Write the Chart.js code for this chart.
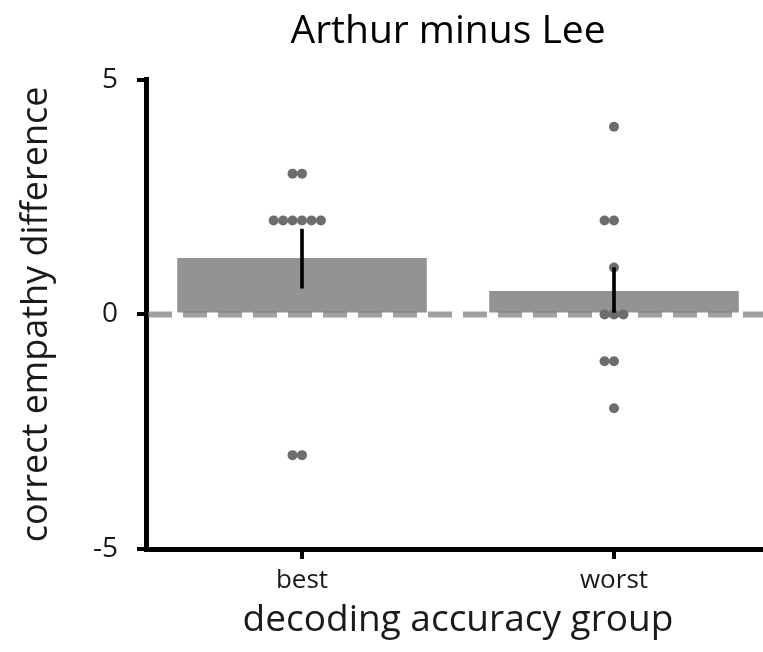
<!DOCTYPE html>
<html>
<head>
<meta charset="utf-8">
<script src="https://cdn.jsdelivr.net/npm/chart.js@4"></script>
<style>
  html, body { margin: 0; padding: 0; background: #fff; overflow: hidden; }
  .wrap { width: 775px; height: 652px; }
</style>
</head>
<body>
<div class="wrap"><canvas class="diff-chart"></canvas></div>
<script>
const categories = ["best", "worst"];
const meanDiff = [1.2, 0.5];
const errLow = [0.56, 0.0];
const errHigh = [1.82, 1.0];
const bestPoints = [3, 3, 2, 2, 2, 2, 2, 2, -3, -3];
const worstPoints = [4, 2, 2, 1, 0, 0, 0, -1, -1, -2];
const yTicks = [-5, 0, 5];
const baseline = 0;

// simple swarm: identical values are laid side by side
const dotStep = 0.0303;
function swarm(values, index) {
  const groups = {};
  values.forEach(v => { (groups[v] = groups[v] || []).push(v); });
  const out = [];
  Object.values(groups).forEach(g => {
    g.forEach((v, i) => {
      out.push({ x: index + (i - Math.floor(g.length / 2)) * dotStep, y: v });
    });
  });
  return out;
}

// the original title sits a little left of the plot centre
const titleNudge = {
  id: "titleNudge",
  afterLayout(chart) {
    const t = chart.titleBlock;
    t.left -= 10;
    t.right -= 10;
  }
};

const font = "'Open Sans', sans-serif";
const ctx = document.querySelector(".diff-chart");

new Chart(ctx, {
  type: "bar",
  data: {
    labels: categories,
    datasets: [
      {
        data: meanDiff,
        backgroundColor: "#939395",
        barPercentage: 0.8,
        categoryPercentage: 1,
        grouped: false,
        order: 4
      },
      {
        type: "line",
        xAxisID: "xj",
        data: [{ x: -0.5, y: baseline }, { x: 1.5, y: baseline }],
        borderColor: "rgba(114,114,114,0.67)",
        borderWidth: 6,
        borderDash: [24, 11],
        borderDashOffset: -2,
        pointRadius: 0,
        order: 3
      },
      {
        type: "scatter",
        xAxisID: "xj",
        data: swarm(bestPoints, 0).concat(swarm(worstPoints, 1)),
        backgroundColor: "#6d6d6f",
        borderWidth: 0,
        pointRadius: 5,
        order: 2
      },
      {
        data: errLow.map((lo, i) => [lo, errHigh[i]]),
        backgroundColor: "#000",
        barThickness: 3,
        grouped: false,
        order: 1
      }
    ]
  },
  plugins: [titleNudge],
  options: {
    responsive: true,
    maintainAspectRatio: false,
    animation: false,
    layout: { padding: 0 },
    plugins: {
      legend: { display: false },
      tooltip: { enabled: false },
      title: {
        display: true,
        text: "Arthur minus Lee",
        fullSize: false,
        color: "#000",
        font: { family: font, size: 39, weight: "normal" },
        padding: { top: 8, bottom: 25 }
      }
    },
    scales: {
      x: {
        offset: true,
        grid: { offset: false, drawOnChartArea: false, color: "#000", lineWidth: 4, tickLength: 10 },
        border: { color: "#000", width: 5 },
        ticks: { color: "#1a1a1a", padding: 6, font: { family: font, size: 26 } },
        title: {
          display: true,
          text: "decoding accuracy group",
          color: "#1a1a1a",
          font: { family: font, size: 37 },
          padding: { top: 0, bottom: 9 }
        },
        afterFit: s => { s.height = 103; }
      },
      xj: {
        type: "linear",
        display: false,
        offset: false,
        min: -0.5,
        max: 1.5
      },
      y: {
        min: -5,
        max: 5,
        afterBuildTicks: s => { s.ticks = yTicks.map(v => ({ value: v })); },
        grid: { drawOnChartArea: false, color: "#000", lineWidth: 4, tickLength: 9 },
        border: { color: "#000", width: 5 },
        ticks: { color: "#1a1a1a", padding: 19, font: { family: font, size: 28 } },
        title: {
          display: true,
          text: "correct empathy difference",
          color: "#1a1a1a",
          font: { family: font, size: 36 },
          padding: { top: 15, bottom: 0 }
        },
        afterFit: s => { s.width = 146; }
      }
    }
  }
});
</script>
</body>
</html>
